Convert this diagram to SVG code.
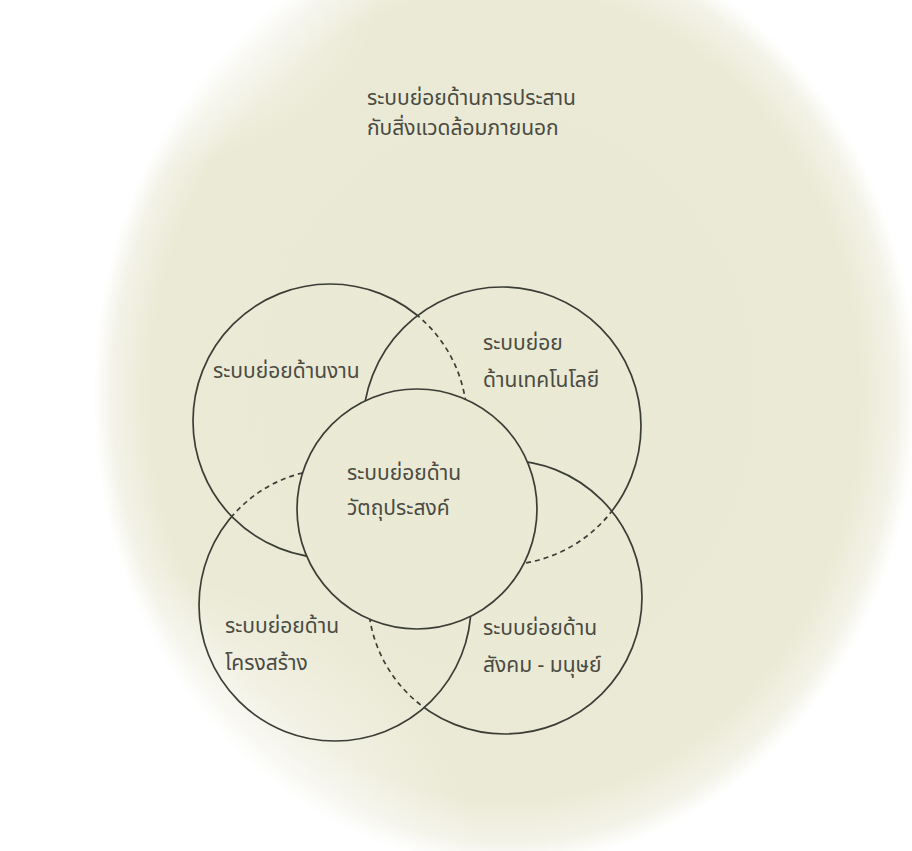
<svg xmlns="http://www.w3.org/2000/svg" width="912" height="851" viewBox="0 0 912 851">
<style>
.ln{fill:none;stroke:#3b3e36;stroke-width:1.7}
.ds{fill:none;stroke:#3b3e36;stroke-width:1.7;stroke-dasharray:5 4}
.tx{font-family:"Noto Sans Thai","Noto Sans","Liberation Sans",sans-serif;font-size:21px;fill:#4a4b42}
</style>
<defs>
<radialGradient id="bg" cx="0.5" cy="0.5" r="0.5">
<stop offset="0" stop-color="#eae9d4"/>
<stop offset="0.86" stop-color="#ebead6"/>
<stop offset="0.95" stop-color="#f3f2e7"/>
<stop offset="1" stop-color="#ffffff"/>
</radialGradient>
<radialGradient id="fade" cx="0.5" cy="0.5" r="0.5">
<stop offset="0" stop-color="#ffffff" stop-opacity="0.9"/>
<stop offset="0.6" stop-color="#ffffff" stop-opacity="0.5"/>
<stop offset="1" stop-color="#ffffff" stop-opacity="0"/>
</radialGradient>
<mask id="mTLs" maskUnits="userSpaceOnUse" x="0" y="0" width="912" height="851"><rect width="912" height="851" fill="#fff"/><circle cx="502" cy="426" r="139" fill="#000"/><circle cx="417" cy="509" r="120" fill="#000"/></mask>
<mask id="mTLd" maskUnits="userSpaceOnUse" x="0" y="0" width="912" height="851"><circle cx="502" cy="426" r="139" fill="#fff"/><circle cx="417" cy="509" r="120" fill="#000"/></mask>
<mask id="mTRs" maskUnits="userSpaceOnUse" x="0" y="0" width="912" height="851"><rect width="912" height="851" fill="#fff"/><circle cx="505" cy="597" r="137" fill="#000"/><circle cx="417" cy="509" r="120" fill="#000"/></mask>
<mask id="mTRd" maskUnits="userSpaceOnUse" x="0" y="0" width="912" height="851"><circle cx="505" cy="597" r="137" fill="#fff"/><circle cx="417" cy="509" r="120" fill="#000"/></mask>
<mask id="mBRs" maskUnits="userSpaceOnUse" x="0" y="0" width="912" height="851"><rect width="912" height="851" fill="#fff"/><circle cx="335" cy="605" r="136" fill="#000"/><circle cx="417" cy="509" r="120" fill="#000"/></mask>
<mask id="mBRd" maskUnits="userSpaceOnUse" x="0" y="0" width="912" height="851"><circle cx="335" cy="605" r="136" fill="#fff"/><circle cx="417" cy="509" r="120" fill="#000"/></mask>
<mask id="mBLs" maskUnits="userSpaceOnUse" x="0" y="0" width="912" height="851"><rect width="912" height="851" fill="#fff"/><circle cx="330" cy="421" r="137" fill="#000"/><circle cx="417" cy="509" r="120" fill="#000"/></mask>
<mask id="mBLd" maskUnits="userSpaceOnUse" x="0" y="0" width="912" height="851"><circle cx="330" cy="421" r="137" fill="#fff"/><circle cx="417" cy="509" r="120" fill="#000"/></mask>
</defs>
<rect width="912" height="851" fill="#ffffff"/>
<ellipse cx="505" cy="395" rx="412" ry="470" fill="url(#bg)"/>
<ellipse cx="60" cy="860" rx="420" ry="300" fill="url(#fade)"/>
<ellipse cx="80" cy="0" rx="300" ry="180" fill="url(#fade)"/>
<g id="outer">
<text class="tx" x="367" y="105">ระบบย่อยด้านการประสาน</text>
<text class="tx" x="367" y="135">กับสิ่งแวดล้อมภายนอก</text>
</g>
<g id="task">
<circle class="ln" cx="330" cy="421" r="137" mask="url(#mTLs)"/>
<circle class="ds" cx="330" cy="421" r="137" mask="url(#mTLd)"/>
<text class="tx" x="213" y="378">ระบบย่อยด้านงาน</text>
</g>
<g id="technology">
<circle class="ln" cx="502" cy="426" r="139" mask="url(#mTRs)"/>
<circle class="ds" cx="502" cy="426" r="139" mask="url(#mTRd)"/>
<text class="tx" x="483" y="350">ระบบย่อย</text>
<text class="tx" x="483" y="387">ด้านเทคโนโลยี</text>
</g>
<g id="social">
<circle class="ln" cx="505" cy="597" r="137" mask="url(#mBRs)"/>
<circle class="ds" cx="505" cy="597" r="137" mask="url(#mBRd)"/>
<text class="tx" x="483" y="635">ระบบย่อยด้าน</text>
<text class="tx" x="483" y="672">สังคม - มนุษย์</text>
</g>
<g id="structure">
<circle class="ln" cx="335" cy="605" r="136" mask="url(#mBLs)"/>
<circle class="ds" cx="335" cy="605" r="136" mask="url(#mBLd)"/>
<text class="tx" x="225" y="633">ระบบย่อยด้าน</text>
<text class="tx" x="225" y="670">โครงสร้าง</text>
</g>
<g id="goals">
<circle class="ln" cx="417" cy="509" r="120"/>
<text class="tx" x="347" y="480">ระบบย่อยด้าน</text>
<text class="tx" x="347" y="515">วัตถุประสงค์</text>
</g>
</svg>
